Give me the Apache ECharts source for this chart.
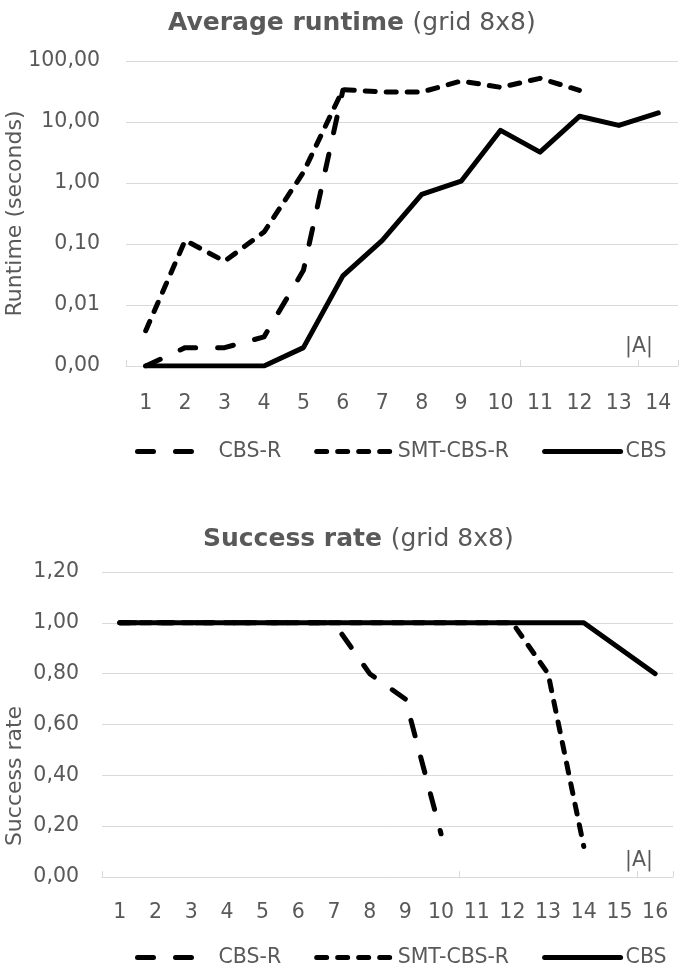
<!DOCTYPE html>
<html>
<head>
<meta charset="utf-8">
<script src="https://cdn.jsdelivr.net/npm/echarts@6/dist/echarts.min.js"></script>
<style>
html,body{margin:0;padding:0;background:#fff;}
#c{width:685px;height:970px;}
</style>
</head>
<body>
<div id="c"></div>
<script>
// ---- data ----
var seriesNames = ['CBS-R', 'SMT-CBS-R', 'CBS'];
var agentsTop = ['1','2','3','4','5','6','7','8','9','10','11','12','13','14'];
var runtimeCbsR = [0.001, 0.002, 0.002, 0.003, 0.037, 33, null, null, null, null, null, null, null, null];
var runtimeSmt  = [0.0038, 0.115, 0.052, 0.157, 1.5, 34, 31, 31, 47, 37, 52, 33, null, null];
var runtimeCbs  = [0.001, 0.001, 0.001, 0.001, 0.002, 0.03, 0.115, 0.65, 1.07, 7.3, 3.2, 12.4, 8.8, 14.1];

var agentsBottom = ['1','2','3','4','5','6','7','8','9','10','11','12','13','14','15','16'];
var successCbsR = [1, 1, 1, 1, 1, 1, 1, 0.8, 0.7, 0.17, null, null, null, null, null, null];
var successSmt  = [1, 1, 1, 1, 1, 1, 1, 1, 1, 1, 1, 1, 0.8, 0.12, null, null];
var successCbs  = [1, 1, 1, 1, 1, 1, 1, 1, 1, 1, 1, 1, 1, 1, 0.9, 0.8];

var topTitleBold = 'Average runtime', bottomTitleBold = 'Success rate', titleRest = '(grid 8x8)';
var yNameTop = 'Runtime (seconds)', yNameBottom = 'Success rate', xName = '|A|';

// ---- styles ----
var FONT = 'DejaVu Sans';
var GREY = '#595959';
var GRID = '#d9d9d9';
var FS = 20.5;
function fmt(v){ return Number(v).toFixed(2).replace('.', ','); }
var dashStyles = {
  'CBS-R': [16, 22],
  'SMT-CBS-R': [10, 11],
  'CBS': 'solid'
};
function mkSeries(name, data, idx){
  return {
    name: name, type: 'line', xAxisIndex: idx, yAxisIndex: idx, data: data,
    symbol: 'none', connectNulls: false, silent: true,
    lineStyle: {color: '#000', width: 5, type: dashStyles[name], cap: 'round', join: 'round'},
    itemStyle: {color: '#000'}
  };
}
function mkTitle(bold, left, top){
  return {
    text: '{b|' + bold + '} {n|' + titleRest + '}',
    left: left, top: top,
    textStyle: {
      fontFamily: FONT, fontSize: 25, color: GREY,
      rich: {
        b: {fontFamily: FONT, fontSize: 25, fontWeight: 'bold', color: GREY},
        n: {fontFamily: FONT, fontSize: 25, fontWeight: 'normal', color: GREY}
      }
    }
  };
}
function mkLegend(top){
  return {
    data: seriesNames, left: 135, top: top, padding: 0,
    itemWidth: 76, itemHeight: 14, itemGap: 33,
    selectedMode: false,
    textStyle: {fontFamily: FONT, fontSize: FS, color: GREY},
    itemStyle: {opacity: 0},
    lineStyle: {width: 5, cap: 'round', opacity: 1}
  };
}
function mkXAxis(idx, data, labelMargin, nameGap, namePad){
  return {
    type: 'category', gridIndex: idx, data: data, boundaryGap: true,
    axisLine: {show: true, lineStyle: {color: GRID, width: 1}},
    axisTick: {show: true, inside: true, length: 6, interval: 9, lineStyle: {color: GRID}},
    axisLabel: {interval: 0, margin: labelMargin, fontFamily: FONT, fontSize: FS, color: GREY},
    splitLine: {show: false},
    name: xName, nameLocation: 'end', nameGap: nameGap, nameMoveOverlap: false,
    nameTextStyle: {fontFamily: FONT, fontSize: FS, color: GREY, align: 'left', verticalAlign: 'bottom', padding: [0, 0, namePad, 0]}
  };
}

var chart = echarts.init(document.getElementById('c'), null, {renderer: 'canvas'});
chart.setOption({
  animation: false,
  backgroundColor: '#fff',
  textStyle: {fontFamily: FONT},
  title: [mkTitle(topTitleBold, 163, 6), mkTitle(bottomTitleBold, 198, 522)],
  legend: [mkLegend(441), mkLegend(947)],
  grid: [
    {left: 126, top: 61, width: 552, height: 305, containLabel: false, outerBoundsMode: 'none'},
    {left: 102, top: 572, width: 571, height: 305, containLabel: false, outerBoundsMode: 'none'}
  ],
  xAxis: [
    mkXAxis(0, agentsTop, 27, -53, 9),
    mkXAxis(1, agentsBottom, 25, -48, 6)
  ],
  yAxis: [
    {
      type: 'log', logBase: 10, min: 0.001, max: 100, gridIndex: 0,
      axisLine: {show: false}, axisTick: {show: false},
      splitLine: {show: true, lineStyle: {color: GRID, width: 1}},
      axisLabel: {margin: 26, fontFamily: FONT, fontSize: FS, color: GREY, formatter: fmt},
      name: yNameTop, nameLocation: 'middle', nameGap: 100, nameMoveOverlap: false,
      nameTextStyle: {fontFamily: FONT, fontSize: 22, color: GREY}
    },
    {
      type: 'value', min: 0, max: 1.2, interval: 0.2, gridIndex: 1,
      axisLine: {show: false}, axisTick: {show: false},
      splitLine: {show: true, lineStyle: {color: GRID, width: 1}},
      axisLabel: {margin: 23, fontFamily: FONT, fontSize: FS, color: GREY, formatter: fmt},
      name: yNameBottom, nameLocation: 'middle', nameGap: 76, nameMoveOverlap: false,
      nameTextStyle: {fontFamily: FONT, fontSize: 22, color: GREY, padding: [0, 103, 0, 0]}
    }
  ],
  series: [
    mkSeries('CBS-R', runtimeCbsR, 0),
    mkSeries('SMT-CBS-R', runtimeSmt, 0),
    mkSeries('CBS', runtimeCbs, 0),
    mkSeries('CBS-R', successCbsR, 1),
    mkSeries('SMT-CBS-R', successSmt, 1),
    mkSeries('CBS', successCbs, 1)
  ]
});
</script>
</body>
</html>
